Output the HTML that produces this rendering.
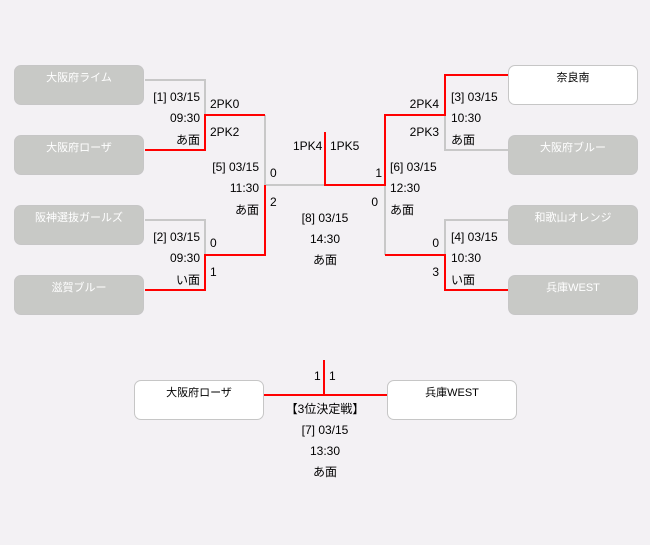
<!DOCTYPE html>
<html><head><meta charset="utf-8"><style>
body{margin:0;background:#f3f1f4;}
.c{position:relative;width:650px;height:545px;overflow:hidden;font-family:"Liberation Sans","Noto Sans CJK JP",sans-serif;font-size:12px;color:#000;}
.b{position:absolute;width:128px;height:38px;border:1px solid #c6c6c6;border-radius:7px;background:#c8c9c6;color:#fff;text-align:center;font-size:11px;line-height:25px;box-sizing:content-box}
.w{background:#fff;color:#000}
.t{position:absolute;white-space:nowrap;line-height:14px}
.r{text-align:right}
svg{position:absolute;left:0;top:0}
</style></head><body><div class="c">
<svg width="650" height="545">
<g stroke="#c8c8c8" stroke-width="2" fill="none">
<polyline points="145,80 205,80 205,115"/>
<polyline points="145,220 205,220 205,255"/>
<polyline points="265,115 265,185 325,185"/>
<polyline points="385,185 385,255"/>
<polyline points="445,115 445,150 508,150"/>
<polyline points="445,255 445,220 508,220"/>
</g>
<g stroke="#f00" stroke-width="2" fill="none">
<polyline points="145,150 205,150 205,115 265,115"/>
<polyline points="145,290 205,290 205,255 265,255 265,185"/>
<polyline points="325,132 325,185 385,185 385,115 445,115 445,75 508,75"/>
<polyline points="385,255 445,255 445,290 508,290"/>
<polyline points="264,395 387,395"/>
<polyline points="324,360 324,395"/>
</g>
</svg>
<div class="b" style="left:14px;top:65px">大阪府ライム</div>
<div class="b" style="left:14px;top:135px">大阪府ローザ</div>
<div class="b" style="left:14px;top:205px">阪神選抜ガールズ</div>
<div class="b" style="left:14px;top:275px">滋賀ブルー</div>
<div class="b w" style="left:508px;top:65px">奈良南</div>
<div class="b" style="left:508px;top:135px">大阪府ブルー</div>
<div class="b" style="left:508px;top:205px">和歌山オレンジ</div>
<div class="b" style="left:508px;top:275px">兵庫WEST</div>
<div class="b w" style="left:134px;top:380px">大阪府ローザ</div>
<div class="b w" style="left:387px;top:380px">兵庫WEST</div>

<div class="t r" style="right:450px;top:90px">[1] 03/15</div>
<div class="t r" style="right:450px;top:111px">09:30</div>
<div class="t r" style="right:450px;top:133px">あ面</div>
<div class="t" style="left:210px;top:97px">2PK0</div>
<div class="t" style="left:210px;top:125px">2PK2</div>
<div class="t r" style="right:391px;top:160px">[5] 03/15</div>
<div class="t r" style="right:391px;top:181px">11:30</div>
<div class="t r" style="right:391px;top:203px">あ面</div>
<div class="t" style="left:270px;top:166px">0</div>
<div class="t" style="left:270px;top:195px">2</div>
<div class="t r" style="right:450px;top:230px">[2] 03/15</div>
<div class="t r" style="right:450px;top:251px">09:30</div>
<div class="t r" style="right:450px;top:273px">い面</div>
<div class="t" style="left:210px;top:236px">0</div>
<div class="t" style="left:210px;top:265px">1</div>

<div class="t" style="left:293px;top:139px">1PK4</div>
<div class="t" style="left:330px;top:139px">1PK5</div>
<div class="t" style="left:275px;width:100px;text-align:center;top:211px">[8] 03/15</div>
<div class="t" style="left:275px;width:100px;text-align:center;top:232px">14:30</div>
<div class="t" style="left:275px;width:100px;text-align:center;top:253px">あ面</div>

<div class="t r" style="right:268px;top:166px">1</div>
<div class="t r" style="right:272px;top:195px">0</div>
<div class="t r" style="right:211px;top:97px">2PK4</div>
<div class="t r" style="right:211px;top:125px">2PK3</div>
<div class="t" style="left:451px;top:90px">[3] 03/15</div>
<div class="t" style="left:451px;top:111px">10:30</div>
<div class="t" style="left:451px;top:133px">あ面</div>
<div class="t" style="left:390px;top:160px">[6] 03/15</div>
<div class="t" style="left:390px;top:181px">12:30</div>
<div class="t" style="left:390px;top:203px">あ面</div>
<div class="t r" style="right:211px;top:236px">0</div>
<div class="t r" style="right:211px;top:265px">3</div>
<div class="t" style="left:451px;top:230px">[4] 03/15</div>
<div class="t" style="left:451px;top:251px">10:30</div>
<div class="t" style="left:451px;top:273px">い面</div>

<div class="t" style="left:314px;top:369px">1</div>
<div class="t" style="left:329px;top:369px">1</div>
<div class="t" style="left:265px;width:120px;text-align:center;top:402px">【3位決定戦】</div>
<div class="t" style="left:265px;width:120px;text-align:center;top:423px">[7] 03/15</div>
<div class="t" style="left:265px;width:120px;text-align:center;top:444px">13:30</div>
<div class="t" style="left:265px;width:120px;text-align:center;top:465px">あ面</div>
</div></body></html>
